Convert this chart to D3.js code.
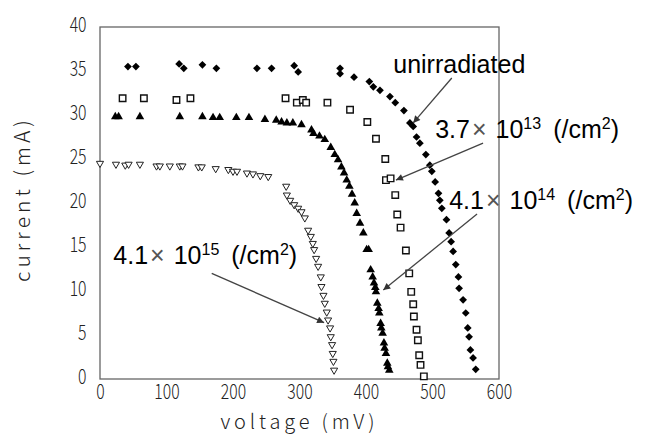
<!DOCTYPE html>
<html>
<head>
<meta charset="utf-8">
<script src="https://cdn.jsdelivr.net/npm/d3@7"></script>
<style>
  body { margin: 0; background: #fff; }
  svg { display: block; }
  .tick text { font-family: "Noto Sans CJK JP", "DejaVu Sans", sans-serif; font-weight: 300; fill: #222; }
  .title { font-family: "Noto Sans CJK JP", "DejaVu Sans Mono", monospace; font-weight: 300; fill: #222; }
  .note { font-family: "Liberation Sans", Arial, sans-serif; fill: #000; }
</style>
</head>
<body>
<div id="chart"></div>
<script>
const width = 646,
height = 434,
margin = { top: 27, bottom: 55, left: 100, right: 147 }

// tick labels
const xTicks = [0, 100, 200, 300, 400, 500, 600]
const yTicks = [0, 5, 10, 15, 20, 25, 30, 35, 40]

// unirradiated (filled diamonds)
const unirrV = [42, 54, 119, 126, 154, 175, 236, 258, 292, 298, 361, 361, 382, 405, 411, 421, 436, 444, 457, 466,
    471, 476, 481, 490, 496, 499, 504, 509, 511, 514, 521, 525, 528, 531, 535, 539, 540, 546, 550, 553, 555, 557, 561, 565]
const unirrI = [35.5, 35.5, 35.8, 35.3, 35.7, 35.3, 35.3, 35.3, 35.6, 34.9, 35.3, 34.7, 34.3, 33.8, 33.2, 32.8, 32.1, 31.4, 30.5, 29.1,
    28.7, 27.5, 26.8, 25.5, 24.3, 23.6, 22.4, 21.1, 20.3, 19.4, 18.1, 16.6, 15.6, 14.5, 13.0, 11.6, 10.3, 9.0, 7.5, 5.8, 4.8, 3.3, 2.4, 1.1]

// 3.7e13 /cm2 (open squares)
const f13V = [34, 66, 115, 136, 279, 296, 305, 310, 342, 376, 402, 415, 429, 430, 437, 444, 447, 452, 460, 465,
    468, 471, 472, 476, 478, 480, 482, 487]
const f13I = [31.9, 31.9, 31.7, 31.9, 31.9, 31.4, 31.7, 31.4, 31.4, 30.6, 29.2, 27.3, 25.0, 22.6, 22.8, 20.9, 18.7, 17.2, 14.6, 12.0,
    9.9, 8.5, 7.1, 5.6, 4.4, 2.7, 1.6, 0.3]

// 4.1e14 /cm2 (filled triangles)
const f14V = [23, 28, 60, 120, 154, 170, 180, 205, 224, 248, 265, 273, 281, 290, 303, 318, 321, 330, 338, 347,
    353, 358, 363, 367, 371, 375, 379, 383, 386, 391, 396, 401, 404, 407, 410, 412, 414, 415, 417, 419, 420, 422, 423, 425, 427, 428, 430, 432, 433, 435]
const f14I = [29.8, 29.8, 29.8, 29.8, 29.8, 29.7, 29.7, 29.7, 29.7, 29.5, 29.4, 29.2, 29.1, 29.1, 28.9, 28.3, 27.9, 27.6, 27.2, 26.3,
    25.5, 24.9, 24.1, 23.4, 22.6, 21.9, 21.0, 20.0, 18.8, 17.7, 16.6, 14.7, 14.7, 12.4, 11.6, 10.9, 10.4, 9.9, 8.6, 8.0, 7.5, 6.3, 5.8, 5.2, 4.1, 3.5, 2.9, 1.8, 1.4, 1.0]

// 4.1e15 /cm2 (open inverted triangles)
const f15V = [0, 24, 38, 43, 60, 85, 90, 105, 120, 124, 148, 153, 174, 193, 200, 206, 221, 230, 241, 253,
    280, 281, 286, 292, 298, 303, 308, 313, 317, 320, 322, 325, 328, 332, 333, 336, 338, 341, 343, 346, 347, 349, 350, 351, 352]
const f15I = [24.5, 24.4, 24.3, 24.4, 24.4, 24.2, 24.2, 24.2, 24.2, 24.2, 24.1, 24.1, 23.9, 23.8, 23.6, 23.6, 23.4, 23.3, 23.1, 23.0,
    21.9, 20.9, 20.3, 19.8, 19.4, 19.0, 18.3, 16.9, 16.2, 15.4, 14.7, 13.7, 12.8, 11.6, 10.5, 9.5, 8.6, 7.6, 6.7, 5.8, 4.8, 3.9, 2.9, 2.0, 1.0]

// annotation labels, anchored in data units
const notes = [
    { base: "unirradiated", tx: 441, ty: 34.8, x1: 529, y1: 34.2, x2: 471, y2: 29.1 },
    { base: "3.7", exp: "13", tx: 504, ty: 27.4, x1: 576, y1: 26.8, x2: 445, y2: 22.6 },
    { base: "4.1", exp: "14", tx: 525, ty: 19.3, x1: 567, y1: 18.75, x2: 426, y2: 10.1 },
    { base: "4.1", exp: "15", tx: 20, ty: 13.1, x1: 168, y1: 12.0, x2: 337, y2: 6.4 }
]

const x = d3.scaleLinear().domain([0, 600]).range([margin.left, width - margin.right])
const y = d3.scaleLinear().domain([0, 40]).range([height - margin.bottom, margin.top])

const svg = d3.select("#chart")
    .append("svg")
    .attr("width", width)
    .attr("height", height)

svg.append("defs")
    .append("marker")
    .attr("id", "head")
    .attr("viewBox", "0 0 10 10")
    .attr("refX", 10)
    .attr("refY", 5)
    .attr("markerUnits", "userSpaceOnUse")
    .attr("markerWidth", 9)
    .attr("markerHeight", 7)
    .attr("orient", "auto")
    .append("path")
    .attr("d", "M0,0L10,5L0,10Z")
    .attr("fill", "#333")

// frame
svg.append("rect")
    .attr("x", x(0))
    .attr("y", y(40))
    .attr("width", x(600) - x(0))
    .attr("height", y(0) - y(40))
    .attr("fill", "none")
    .attr("stroke", "#666")
    .attr("stroke-width", 1.3)

const xAxis = svg.append("g")
    .attr("transform", `translate(0,${y(0)})`)
    .call(d3.axisBottom(x).tickValues(xTicks).tickSize(0).tickPadding(5))
xAxis.select(".domain").remove()
xAxis.selectAll("text")
    .attr("font-size", 21)
    .attr("transform", "scale(0.75,1)")

const yAxis = svg.append("g")
    .attr("transform", `translate(${x(0)},0)`)
    .call(d3.axisLeft(y).tickValues(yTicks).tickSize(0).tickPadding(18))
yAxis.select(".domain").remove()
yAxis.selectAll("text")
    .attr("font-size", 21)
    .attr("dy", "0.22em")
    .attr("transform", "scale(0.75,1)")

svg.append("text")
    .attr("class", "title")
    .attr("x", (x(0) + x(600)) / 2 - 2)
    .attr("y", 429)
    .attr("text-anchor", "middle")
    .attr("font-size", 20)
    .attr("textLength", 154)
    .attr("lengthAdjust", "spacing")
    .text("voltage (mV)")

svg.append("text")
    .attr("class", "title")
    .attr("transform", "translate(30,201) rotate(-90)")
    .attr("text-anchor", "middle")
    .attr("font-size", 21)
    .attr("textLength", 162)
    .attr("lengthAdjust", "spacing")
    .text("current (mA)")

// series
const pts = (vs, is) => vs.map((v, i) => [v, is[i]])

svg.append("g").selectAll("path")
    .data(pts(f15V, f15I))
    .join("path")
    .attr("d", d3.symbol(d3.symbolTriangle, 22))
    .attr("transform", d => `translate(${x(d[0])},${y(d[1])}) rotate(180)`)
    .attr("fill", "#fff")
    .attr("stroke", "#222")
    .attr("stroke-width", 1)

svg.append("g").selectAll("path")
    .data(pts(f14V, f14I))
    .join("path")
    .attr("d", d3.symbol(d3.symbolTriangle, 32))
    .attr("transform", d => `translate(${x(d[0])},${y(d[1])})`)
    .attr("fill", "#000")

svg.append("g").selectAll("path")
    .data(pts(f13V, f13I))
    .join("path")
    .attr("d", d3.symbol(d3.symbolSquare, 42))
    .attr("transform", d => `translate(${x(d[0])},${y(d[1])})`)
    .attr("fill", "#fff")
    .attr("stroke", "#111")
    .attr("stroke-width", 1.4)

svg.append("g").selectAll("path")
    .data(pts(unirrV, unirrI))
    .join("path")
    .attr("d", d3.symbol(d3.symbolSquare, 30))
    .attr("transform", d => `translate(${x(d[0])},${y(d[1])}) rotate(45)`)
    .attr("fill", "#000")

// annotations
notes.forEach(n => {
    svg.append("line")
        .attr("x1", x(n.x1)).attr("y1", y(n.y1))
        .attr("x2", x(n.x2)).attr("y2", y(n.y2))
        .attr("stroke", "#444")
        .attr("stroke-width", 1.3)
        .attr("marker-end", "url(#head)")

    const t = svg.append("text")
        .attr("class", "note")
        .attr("x", x(n.tx))
        .attr("y", y(n.ty))
        .attr("font-size", 25)
    t.append("tspan").text(n.base)
    if (n.exp) {
        t.append("tspan").attr("dx", 2).attr("fill", "#555").attr("font-weight", 300).text("×")
        t.append("tspan").attr("dx", 9).text("10")
        t.append("tspan").attr("font-size", 16).attr("dy", -9).text(n.exp)
        t.append("tspan").attr("dy", 9).attr("dx", 12).text("(/cm")
        t.append("tspan").attr("font-size", 16).attr("dy", -9).text("2")
        t.append("tspan").attr("dy", 9).text(")")
    }
})
</script>
</body>
</html>
